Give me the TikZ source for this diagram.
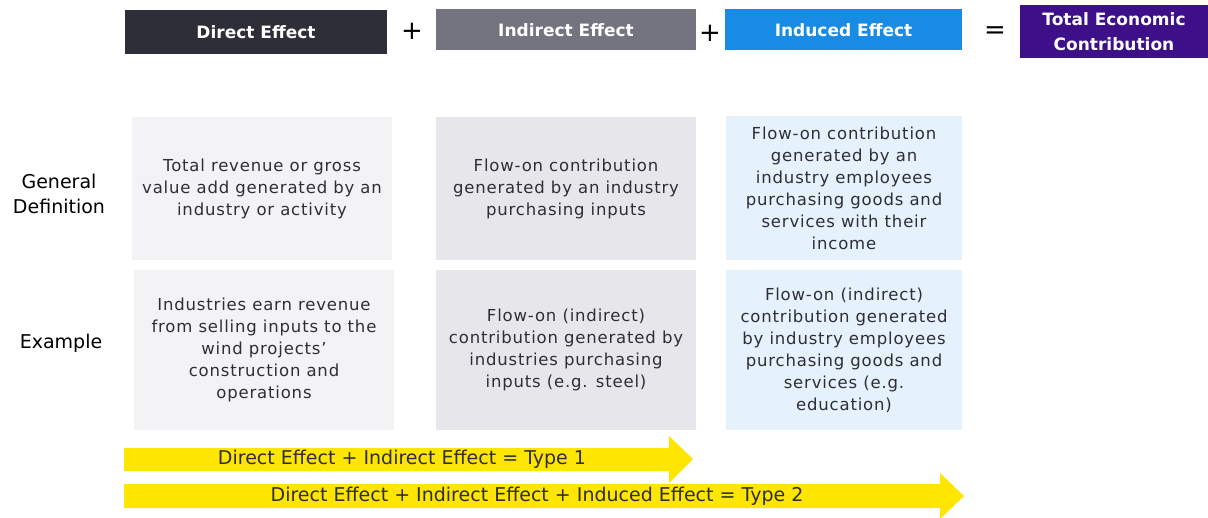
\documentclass[tikz,border=0pt]{standalone}
\usepackage{fontspec}
\setmainfont{DejaVu Sans}
\newfontfamily\cellfont[LetterSpace=5]{DejaVu Sans}
\begin{document}
\begin{tikzpicture}[x=1pt,y=-1pt,
  hdr/.style={text=white,font=\bfseries\fontsize{17}{25}\selectfont,align=center,inner sep=0pt},
  cell/.style={text=txt,font=\cellfont\fontsize{16.5}{22}\selectfont,align=center,inner sep=0pt},
  rowlab/.style={text=black,font=\fontsize{19}{25}\selectfont,align=center,inner sep=0pt},
  sym/.style={font=\fontsize{26}{26}\selectfont,inner sep=0pt},
  arrtxt/.style={text=txt,font=\fontsize{19}{20}\selectfont,inner sep=0pt}]
\definecolor{cdir}{HTML}{2E2E38}
\definecolor{cind}{HTML}{747480}
\definecolor{cinu}{HTML}{188CE5}
\definecolor{ctot}{HTML}{3D108A}
\definecolor{ldir}{HTML}{F3F3F5}
\definecolor{lind}{HTML}{E7E7EB}
\definecolor{linu}{HTML}{E5F1FB}
\definecolor{yel}{HTML}{FFE600}
\definecolor{txt}{HTML}{2E2E38}
\useasboundingbox (0,0) rectangle (1208,517);
% headers
\fill[cdir] (125,10) rectangle (387,54);
\node[hdr] (hd) at (256,32) {Direct Effect};
\fill[cind] (436,9) rectangle (696,50);
\node[hdr] (hi) at (566,30) {Indirect Effect};
\fill[cinu] (725,9) rectangle (962,50);
\node[hdr] (hu) at (843.5,30) {Induced Effect};
\fill[ctot] (1020,5) rectangle (1208,58);
\node[hdr] (ht) at (1114,32) {Total Economic\\Contribution};
\node[sym] (p1) at (412,31) {+};
\node[sym] (p2) at (710,33) {+};
\node[sym] (eq) at (995,33) {=};
% row labels
\node[rowlab] (lg) at (59,194) {General\\Definition};
\node[rowlab] (le) at (61,343) {Example};
% cells row 1
\fill[ldir] (132,117) rectangle (392,260);
\node[cell] (c11) at (262,189) {Total revenue or gross\\value add generated by an\\industry or activity};
\fill[lind] (436,117) rectangle (696,260);
\node[cell] (c12) at (566,189) {Flow-on contribution\\generated by an industry\\purchasing inputs};
\fill[linu] (726,116) rectangle (962,260);
\node[cell] (c13) at (844,188.5) {Flow-on contribution\\generated by an\\industry employees\\purchasing goods and\\services with their\\income};
% cells row 2
\fill[ldir] (134,270) rectangle (394,430);
\node[cell] (c21) at (264,350) {Industries earn revenue\\from selling inputs to the\\wind projects’\\construction and\\operations};
\fill[lind] (436,270) rectangle (696,430);
\node[cell] (c22) at (566,350) {Flow-on (indirect)\\contribution generated by\\industries purchasing\\inputs (e.g. steel)};
\fill[linu] (726,270) rectangle (962,430);
\node[cell] (c23) at (844,350) {Flow-on (indirect)\\contribution generated\\by industry employees\\purchasing goods and\\services (e.g.\\education)};
% arrows
\fill[yel] (124,448) -- (669,448) -- (669,436) -- (693,459) -- (669,483) -- (669,471) -- (124,471) -- cycle;
\node[arrtxt] (a1) at (402,459) {Direct Effect + Indirect Effect = Type 1};
\fill[yel] (124,484) -- (940,484) -- (940,473) -- (964,496) -- (940,519) -- (940,508) -- (124,508) -- cycle;
\node[arrtxt] (a2) at (537,496) {Direct Effect + Indirect Effect + Induced Effect = Type 2};
\end{tikzpicture}
\end{document}
